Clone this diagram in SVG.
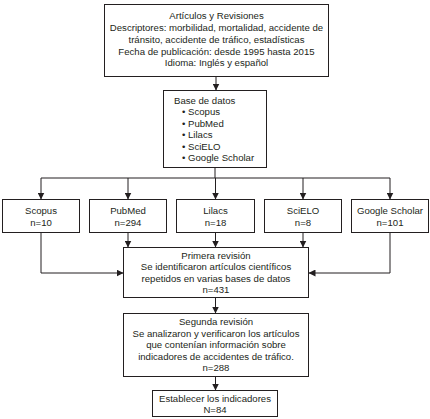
<svg xmlns="http://www.w3.org/2000/svg" width="430" height="419" viewBox="0 0 430 419">
<defs>
<marker id="ah" markerWidth="7" markerHeight="7" refX="6.5" refY="3.5" orient="auto" markerUnits="userSpaceOnUse">
<path d="M0,0 L7,3.5 L0,7 Z" fill="#231f20"/>
</marker>
<style>
.box{fill:#fff;stroke:#231f20;stroke-width:1}
.t{font-family:"Liberation Sans",Arial,sans-serif;font-size:9.6px;fill:#231f20;text-anchor:middle}
.l{font-family:"Liberation Sans",Arial,sans-serif;font-size:9.6px;fill:#231f20}
.c{fill:none;stroke:#231f20;stroke-width:1}
</style>
</defs>
<rect width="430" height="419" fill="#fff"/>
<g id="connectors">
<path class="c" d="M216,76 V90" marker-end="url(#ah)"/>
<path class="c" d="M215,167 V178 M41,178 H390"/>
<path class="c" d="M41,178 V199" marker-end="url(#ah)"/>
<path class="c" d="M128,178 V199" marker-end="url(#ah)"/>
<path class="c" d="M215.5,178 V199" marker-end="url(#ah)"/>
<path class="c" d="M303,178 V199" marker-end="url(#ah)"/>
<path class="c" d="M390,178 V199" marker-end="url(#ah)"/>
<path class="c" d="M128,232 V247" marker-end="url(#ah)"/>
<path class="c" d="M215.5,232 V247" marker-end="url(#ah)"/>
<path class="c" d="M303,232 V247" marker-end="url(#ah)"/>
<path class="c" d="M41,232 V273 H123" marker-end="url(#ah)"/>
<path class="c" d="M390,232 V273 H309" marker-end="url(#ah)"/>
<path class="c" d="M215.5,297 V313" marker-end="url(#ah)"/>
<path class="c" d="M215.5,376 V390" marker-end="url(#ah)"/>
</g>
<g id="n-articulos">
<rect class="box" x="104.5" y="4.5" width="224" height="72"/>
<text class="t" x="216.5" y="19">Artículos y Revisiones</text>
<text class="t" x="216.5" y="31">Descriptores: morbilidad, mortalidad, accidente de</text>
<text class="t" x="216.5" y="42.5">tránsito, accidente de tráfico, estadísticas</text>
<text class="t" x="216.5" y="54.5">Fecha de publicación: desde 1995 hasta 2015</text>
<text class="t" x="216.5" y="66">Idioma: Inglés y español</text>
</g>
<g id="n-base">
<rect class="box" x="163.5" y="90.5" width="103" height="77"/>
<text class="l" x="174" y="103.5">Base de datos</text>
<text class="l" x="182" y="115">• Scopus</text>
<text class="l" x="182" y="126.5">• PubMed</text>
<text class="l" x="182" y="138">• Lilacs</text>
<text class="l" x="182" y="149.5">• SciELO</text>
<text class="l" x="182" y="161">• Google Scholar</text>
</g>
<g id="n-scopus">
<rect class="box" x="2.5" y="199.5" width="77" height="33"/>
<text class="t" x="41" y="213.5">Scopus</text>
<text class="t" x="41" y="225.5">n=10</text>
</g>
<g id="n-pubmed">
<rect class="box" x="89.5" y="199.5" width="77" height="33"/>
<text class="t" x="128" y="213.5">PubMed</text>
<text class="t" x="128" y="225.5">n=294</text>
</g>
<g id="n-lilacs">
<rect class="box" x="176.5" y="199.5" width="78" height="33"/>
<text class="t" x="215.5" y="213.5">Lilacs</text>
<text class="t" x="215.5" y="225.5">n=18</text>
</g>
<g id="n-scielo">
<rect class="box" x="264.5" y="199.5" width="77" height="33"/>
<text class="t" x="303" y="213.5">SciELO</text>
<text class="t" x="303" y="225.5">n=8</text>
</g>
<g id="n-google">
<rect class="box" x="351.5" y="199.5" width="77" height="33"/>
<text class="t" x="390" y="213.5">Google Scholar</text>
<text class="t" x="390" y="225.5">n=101</text>
</g>
<g id="n-primera">
<rect class="box" x="123.5" y="247.5" width="185" height="50"/>
<text class="t" x="216" y="258.5">Primera revisión</text>
<text class="t" x="216" y="270">Se identificaron artículos científicos</text>
<text class="t" x="216" y="281.5">repetidos en varias bases de datos</text>
<text class="t" x="216" y="293">n=431</text>
</g>
<g id="n-segunda">
<rect class="box" x="123.5" y="313.5" width="185" height="63"/>
<text class="t" x="216" y="325">Segunda revisión</text>
<text class="t" x="216" y="336.5">Se analizaron y verificaron los artículos</text>
<text class="t" x="216" y="348">que contenían información sobre</text>
<text class="t" x="216" y="359.5">indicadores de accidentes de tráfico.</text>
<text class="t" x="216" y="371">n=288</text>
</g>
<g id="n-establecer">
<rect class="box" x="152.5" y="390.5" width="125" height="26"/>
<text class="t" x="215" y="401.5">Establecer los indicadores</text>
<text class="t" x="215" y="413">N=84</text>
</g>
</svg>
